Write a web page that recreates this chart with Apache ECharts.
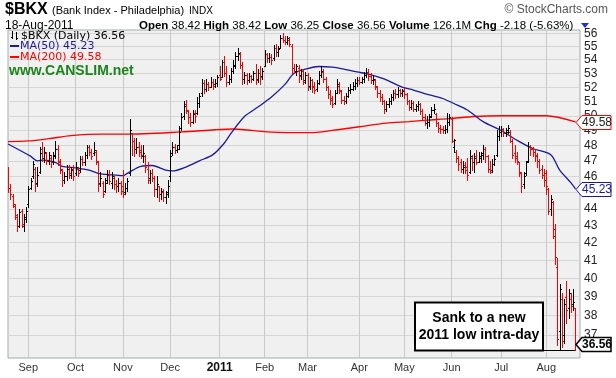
<!DOCTYPE html>
<html>
<head>
<meta charset="utf-8">
<script src="https://cdn.jsdelivr.net/npm/echarts@6/dist/echarts.min.js"></script>
<style>
  html, body { margin: 0; padding: 0; background: #fff; }
  #chart { width: 616px; height: 378px; }
</style>
</head>
<body>
<div id="chart"></div>
<script>
// trading days Aug 19 2010 .. Aug 22 2011 (last two are empty space on the right)
const holidays = ['2010-09-06', '2010-11-25', '2010-12-24', '2011-01-17', '2011-02-21', '2011-04-22', '2011-05-30', '2011-07-04'];
const monthNames = ['Jan', 'Feb', 'Mar', 'Apr', 'May', 'Jun', 'Jul', 'Aug', 'Sep', 'Oct', 'Nov', 'Dec'];
const yTicks = [37, 38, 39, 40, 41, 42, 43, 44, 45, 46, 47, 48, 49, 50, 51, 52, 53, 54, 55, 56];

const opens = [
  46.3, 45.3, 44.8, 44.2, 43.5, 43.0, 43.9, 43.0, 43.4, 44.3,
  45.3, 46.0, 46.5, 45.6, 46.3, 47.8, 47.2, 47.5, 47.0, 47.2,
  47.0, 47.4, 47.8, 46.9, 46.4, 45.8, 46.0, 46.6, 46.1, 46.5,
  46.2, 46.5, 46.4, 47.1, 46.9, 47.4, 47.9, 47.6, 47.5, 47.6,
  46.9, 45.6, 45.6, 45.1, 45.8, 46.1, 45.6, 45.9, 45.5, 45.4,
  45.6, 45.4, 45.0, 45.3, 46.2, 48.8, 48.3, 47.8, 47.9, 47.7,
  47.3, 47.3, 46.5, 45.9, 46.2, 45.9, 45.2, 45.4, 44.9, 45.0,
  44.7, 44.9, 46.0, 47.5, 47.9, 47.7, 48.0, 49.2, 50.0, 50.8,
  50.3, 49.9, 49.6, 50.2, 50.2, 50.9, 51.6, 52.3, 51.9, 52.2,
  52.0, 52.4, 52.2, 52.3, 52.9, 52.7, 53.8, 53.0, 52.4, 52.6,
  53.2, 53.6, 54.3, 54.4, 53.6, 52.6, 52.9, 52.5, 52.8, 52.6,
  53.0, 52.6, 53.0, 52.8, 53.5, 54.4, 54.1, 54.2, 54.1, 54.9,
  54.6, 54.9, 55.6, 55.5, 55.3, 55.5, 55.0, 53.4, 53.2, 53.4,
  52.9, 53.2, 52.5, 52.9, 52.1, 52.5, 52.1, 51.9, 52.3, 52.9,
  53.1, 52.6, 52.0, 51.5, 51.2, 50.9, 51.6, 52.1, 51.7, 51.1,
  51.0, 51.4, 51.8, 51.9, 52.1, 52.3, 52.5, 52.4, 52.6, 52.9,
  53.1, 52.8, 52.5, 52.5, 52.0, 51.6, 51.3, 51.0, 50.5, 50.8,
  51.0, 51.3, 51.6, 51.5, 51.8, 51.6, 51.8, 51.5, 51.0, 50.6,
  50.9, 50.5, 50.7, 50.8, 50.3, 49.9, 49.5, 49.6, 50.0, 50.4,
  50.1, 49.5, 49.2, 49.1, 49.0, 49.1, 49.6, 49.8, 47.9, 47.6,
  47.2, 46.9, 46.5, 46.7, 46.6, 46.3, 47.2, 46.9, 47.3, 46.9,
  47.2, 47.4, 47.8, 47.3, 46.5, 46.4, 46.8, 47.4, 48.6, 48.9,
  49.1, 48.8, 49.0, 48.9, 48.3, 47.5, 47.3, 46.9, 46.2, 45.5,
  46.2, 47.0, 47.9, 47.8, 47.6, 47.3, 47.0, 46.5, 46.1, 46.2,
  45.2, 44.0, 44.4, 42.8, 40.6, 37.2, 38.9, 37.0, 39.0, 38.4,
  38.9, 38.6, 38.42
];
const highs = [
  46.6, 45.5, 44.9, 44.3, 43.7, 44.0, 44.0, 43.7, 44.1, 45.4,
  45.9, 47.0, 46.6, 46.6, 47.9, 48.2, 47.9, 47.6, 47.6, 47.4,
  47.6, 48.3, 48.0, 47.1, 46.5, 46.3, 46.7, 46.7, 46.6, 46.7,
  46.9, 46.6, 47.3, 47.3, 47.6, 48.05, 48.0, 47.8, 48.2, 47.7,
  47.0, 46.3, 45.7, 45.9, 46.4, 46.4, 46.3, 46.0, 45.8, 45.9,
  45.7, 46.4, 45.6, 45.9, 49.75, 48.8, 48.5, 48.5, 48.2, 48.0,
  48.0, 47.4, 46.9, 46.4, 46.5, 46.0, 46.0, 45.4, 45.3, 45.2,
  45.1, 45.8, 47.7, 48.2, 48.1, 48.05, 49.3, 50.2, 51.0, 51.1,
  50.4, 50.2, 50.4, 50.4, 51.3, 51.6, 52.6, 52.5, 52.6, 52.4,
  52.7, 52.6, 52.6, 52.9, 53.5, 54.0, 54.3, 53.5, 52.9, 53.4,
  54.0, 54.6, 54.85, 54.6, 53.8, 53.1, 53.0, 53.0, 52.9, 53.2,
  53.7, 53.3, 53.5, 53.4, 54.7, 54.5, 54.5, 54.4, 55.1, 55.2,
  55.0, 55.9, 56.0, 55.8, 55.8, 55.7, 55.2, 53.7, 53.7, 53.6,
  53.3, 53.3, 53.1, 53.0, 52.7, 52.6, 52.4, 52.5, 53.2, 53.5,
  53.3, 52.7, 52.1, 51.8, 51.4, 51.8, 52.6, 52.4, 51.8, 51.4,
  51.6, 52.0, 52.2, 52.4, 52.6, 52.7, 52.7, 52.7, 53.1, 53.4,
  53.3, 53.0, 52.9, 52.6, 52.1, 51.8, 51.5, 51.1, 51.0, 51.2,
  51.5, 51.8, 51.9, 52.0, 51.9, 51.9, 51.95, 51.6, 51.1, 51.1,
  51.0, 50.8, 51.0, 50.9, 50.5, 50.1, 50.0, 50.1, 50.6, 50.8,
  50.2, 49.6, 49.4, 49.3, 49.4, 50.2, 50.1, 49.9, 48.4, 47.7,
  47.3, 47.1, 47.0, 46.9, 47.2, 47.7, 47.4, 47.5, 47.7, 47.6,
  47.6, 48.05, 47.9, 47.4, 47.0, 47.1, 47.4, 49.0, 49.3, 49.3,
  49.2, 49.2, 49.4, 49.0, 48.4, 48.0, 47.6, 46.9, 46.3, 46.3,
  47.0, 48.2, 48.0, 47.9, 47.8, 47.5, 47.1, 46.7, 46.5, 46.4,
  45.3, 44.85, 44.5, 43.1, 41.1, 39.7, 39.2, 38.9, 39.85, 39.4,
  39.2, 39.4, 38.42
];
const lows = [
  45.0, 44.6, 44.1, 43.4, 42.7, 42.9, 42.9, 42.7, 43.2, 44.1,
  45.2, 45.9, 45.1, 45.4, 46.2, 47.0, 46.9, 46.8, 46.8, 46.6,
  46.8, 47.2, 46.7, 46.2, 45.4, 45.6, 45.8, 45.9, 45.9, 45.8,
  46.1, 46.0, 46.3, 46.7, 46.7, 47.2, 47.4, 47.1, 47.4, 46.8,
  45.1, 45.4, 44.75, 45.0, 45.6, 45.5, 45.3, 45.2, 45.0, 45.1,
  44.9, 44.75, 44.9, 45.1, 46.1, 47.4, 47.3, 47.5, 47.3, 47.2,
  46.9, 46.3, 45.6, 45.6, 45.7, 44.8, 44.75, 44.5, 44.6, 44.5,
  44.35, 44.7, 45.7, 47.4, 47.5, 47.55, 47.8, 49.0, 49.8, 50.2,
  49.5, 49.3, 49.5, 49.6, 50.1, 50.6, 51.4, 51.6, 51.7, 51.8,
  52.0, 51.9, 52.0, 52.1, 52.5, 52.7, 52.8, 52.1, 52.2, 52.4,
  53.0, 53.4, 54.0, 53.4, 52.2, 52.3, 52.2, 52.4, 52.4, 52.5,
  52.2, 52.4, 52.2, 52.6, 53.5, 53.8, 53.8, 53.7, 54.0, 54.3,
  54.3, 54.85, 55.3, 55.2, 55.2, 55.0, 53.0, 53.0, 52.9, 52.4,
  52.6, 52.2, 52.3, 51.8, 51.9, 51.65, 51.6, 51.7, 52.2, 52.7,
  52.4, 51.8, 51.2, 50.8, 50.6, 50.8, 51.6, 51.6, 50.9, 50.8,
  50.9, 51.3, 51.6, 51.8, 51.9, 52.1, 52.2, 52.3, 52.4, 52.7,
  52.5, 52.3, 52.2, 51.9, 51.3, 51.0, 50.8, 50.2, 50.3, 50.6,
  50.8, 51.1, 51.2, 51.3, 51.4, 51.4, 51.2, 50.8, 50.4, 50.5,
  50.3, 50.3, 50.4, 50.1, 49.8, 49.4, 49.2, 49.3, 49.9, 50.2,
  49.3, 48.9, 48.85, 48.8, 48.8, 48.9, 49.4, 48.2, 47.6, 46.9,
  46.4, 46.3, 46.2, 46.2, 45.8, 46.2, 46.4, 46.3, 46.8, 46.9,
  46.9, 47.1, 46.9, 46.3, 46.2, 46.3, 46.7, 47.3, 48.35, 48.6,
  48.6, 48.6, 48.8, 48.2, 47.2, 46.9, 46.8, 46.0, 45.05, 45.3,
  46.1, 46.9, 47.4, 47.3, 47.0, 46.6, 46.2, 45.9, 45.4, 44.9,
  43.7, 43.6, 42.3, 40.8, 36.5, 36.3, 36.4, 36.6, 37.6, 37.9,
  38.2, 38.3, 36.25
];
const closes = [
  45.3, 44.9, 44.3, 43.6, 43.0, 43.8, 43.1, 43.5, 43.9, 45.2,
  45.7, 46.8, 45.5, 46.1, 47.5, 47.2, 47.6, 47.0, 47.4, 46.9,
  47.3, 47.8, 47.0, 46.5, 45.8, 46.0, 46.5, 46.2, 46.4, 46.0,
  46.6, 46.2, 47.1, 46.9, 47.4, 47.9, 47.6, 47.3, 47.7, 47.0,
  45.5, 45.9, 44.9, 45.6, 46.1, 45.7, 46.0, 45.5, 45.4, 45.6,
  45.1, 44.9, 45.3, 45.7, 49.0, 48.3, 47.8, 47.9, 47.6, 47.4,
  47.5, 46.6, 45.8, 46.2, 45.9, 45.2, 45.5, 44.9, 45.1, 44.7,
  45.0, 45.4, 47.3, 47.9, 47.7, 47.8, 48.9, 49.9, 50.7, 50.4,
  49.9, 49.6, 50.1, 50.0, 50.9, 51.4, 52.3, 51.9, 52.2, 52.0,
  52.4, 52.1, 52.3, 52.7, 52.6, 53.8, 53.0, 52.4, 52.6, 53.2,
  53.5, 54.3, 54.5, 53.6, 52.6, 52.9, 52.5, 52.8, 52.6, 53.0,
  52.5, 53.0, 52.7, 53.2, 54.4, 54.1, 54.2, 54.0, 54.9, 54.6,
  54.8, 55.6, 55.5, 55.3, 55.6, 55.2, 53.4, 53.2, 53.5, 52.8,
  53.2, 52.4, 52.9, 52.0, 52.5, 52.0, 51.8, 52.3, 52.9, 53.2,
  52.6, 52.0, 51.5, 51.1, 50.8, 51.6, 52.2, 51.8, 51.1, 51.0,
  51.4, 51.8, 51.9, 52.1, 52.3, 52.5, 52.4, 52.6, 52.9, 53.1,
  52.8, 52.5, 52.6, 52.1, 51.6, 51.3, 51.0, 50.5, 50.8, 51.0,
  51.3, 51.6, 51.5, 51.8, 51.6, 51.7, 51.5, 51.0, 50.6, 50.9,
  50.5, 50.7, 50.8, 50.3, 49.9, 49.5, 49.6, 49.9, 50.4, 50.5,
  49.5, 49.2, 49.1, 49.0, 49.1, 49.6, 49.9, 48.3, 48.35, 47.2,
  46.8, 46.5, 46.6, 46.4, 46.1, 47.3, 46.9, 47.2, 46.9, 47.3,
  47.5, 47.8, 47.3, 46.5, 46.3, 46.8, 47.1, 48.6, 48.9, 49.1,
  48.8, 48.9, 49.2, 48.6, 47.4, 47.2, 47.0, 46.3, 45.4, 46.0,
  46.9, 47.9, 47.8, 47.6, 47.4, 47.0, 46.4, 46.1, 45.8, 45.4,
  43.9, 44.6, 42.4, 41.2, 36.8, 39.4, 36.7, 38.6, 38.3, 39.2,
  38.5, 38.74, 36.56
];
// moving averages at [day index, value]
const ma50Points = [
  [0, 48.1], [10, 47.3], [13, 47.0], [16, 47.05], [21, 46.9], [24, 46.65], [30, 46.55], [36, 46.4],
  [40, 46.2], [46, 46.1], [51, 46.05], [53, 46.2], [59, 46.65], [64, 46.7], [70, 46.4], [73, 46.35],
  [79, 46.6], [85, 47.0], [91, 47.4], [96, 48.15], [99, 48.8], [105, 49.95], [111, 50.6], [117, 51.3],
  [123, 52.2], [127, 53.0], [133, 53.35], [138, 53.5], [144, 53.45], [148, 53.35], [155, 53.1],
  [160, 52.95], [167, 52.6], [175, 52.0], [180, 51.8], [185, 51.55], [193, 51.2], [198, 50.85],
  [204, 50.4], [211, 49.6], [219, 49.0], [226, 48.35], [233, 47.8], [241, 47.4], [245, 46.4],
  [250, 45.6], [252, 45.23]
];
const ma200Points = [
  [0, 48.25], [9, 48.3], [18, 48.45], [28, 48.65], [42, 48.75], [52, 48.75], [77, 48.9], [92, 49.05],
  [100, 49.1], [115, 48.9], [124, 48.85], [134, 48.85], [144, 49.0], [156, 49.25], [168, 49.5],
  [178, 49.6], [186, 49.7], [196, 49.8], [207, 49.95], [219, 50.0], [239, 50.0], [252, 49.58]
];

const days = [];
for (let t = Date.UTC(2010, 7, 19); t <= Date.UTC(2011, 7, 22); t += 864e5) {
  const d = new Date(t);
  const s = d.toISOString().slice(0, 10);
  if (d.getUTCDay() !== 0 && d.getUTCDay() !== 6 && holidays.indexOf(s) < 0) days.push(s);
}
const isMonthStart = (i) => i > 0 && days[i].slice(5, 7) !== days[i - 1].slice(5, 7);

const ohlc = closes.map((c, i) => {
  const down = i === 0 ? c < opens[i] : c < closes[i - 1];
  return [i, opens[i], highs[i], lows[i], c, down ? 1 : 0];
});
function spread(points) {
  const arr = days.map(() => null);
  points.forEach(p => { arr[p[0]] = p[1]; });
  return arr;
}

const chart = echarts.init(document.getElementById('chart'));
const option = {
  animation: false,
  grid: {
    left: 8, right: 36, top: 30, bottom: 20,
    show: true, backgroundColor: '#f0f0f0', borderColor: '#a3abab', borderWidth: 1
  },
  xAxis: {
    type: 'category',
    data: days,
    boundaryGap: false,
    axisLine: { show: false },
    axisTick: { show: false },
    axisLabel: {
      interval: (i) => isMonthStart(i),
      formatter: (v) => {
        const m = +v.slice(5, 7) - 1;
        return m === 0 ? '{y|' + v.slice(0, 4) + '}' : monthNames[m];
      },
      rich: { y: { fontWeight: 'bold', fontSize: 12, color: '#111', fontFamily: 'Liberation Sans' } },
      color: '#333', fontSize: 11, fontFamily: 'Liberation Sans', margin: 4
    },
    splitLine: { show: true, interval: (i) => isMonthStart(i), lineStyle: { color: '#c9c9c9', width: 1 } }
  },
  yAxis: {
    type: 'log',
    position: 'right',
    min: 35.85,
    max: 56.25,
    axisLine: { show: false },
    axisTick: { show: false, customValues: yTicks },
    axisLabel: { customValues: yTicks, color: '#222', fontSize: 12, fontFamily: 'Liberation Sans', margin: 4 },
    splitLine: { show: true, lineStyle: { color: '#d6d6d6', width: 1 } }
  },
  series: [
    {
      type: 'line', name: 'MA(200)', data: spread(ma200Points), connectNulls: true, smooth: 0.3,
      showSymbol: false, lineStyle: { color: '#ff0000', width: 1.3 }, z: 2
    },
    {
      type: 'line', name: 'MA(50)', data: spread(ma50Points), connectNulls: true, smooth: 0.3,
      showSymbol: false, lineStyle: { color: '#1a1a9a', width: 1.3 }, z: 2
    },
    {
      type: 'custom', name: '$BKX', data: ohlc, clip: true, z: 3,
      encode: { x: 0, y: [1, 2, 3, 4] },
      renderItem: (params, api) => {
        const i = api.value(0);
        const h = api.coord([i, api.value(2)]);
        const l = api.coord([i, api.value(3)]);
        const o = api.coord([i, api.value(1)]);
        const c = api.coord([i, api.value(4)]);
        const x = Math.round(h[0]);
        const st = { fill: api.value(5) ? '#ff0000' : '#000000' };
        return {
          type: 'group',
          children: [
            { type: 'rect', shape: { x: x, y: Math.round(h[1]), width: 1, height: Math.max(1, Math.round(l[1]) - Math.round(h[1]) + 1) }, style: st },
            { type: 'rect', shape: { x: x - 1, y: Math.round(o[1]), width: 1, height: 1 }, style: st },
            { type: 'rect', shape: { x: x + 1, y: Math.round(c[1]), width: 1, height: 1 }, style: st }
          ]
        };
      }
    }
  ]
};
chart.setOption(option);

const last = closes.length - 1;
function tag(value, text, border, color, bold) {
  const y = Math.round(chart.convertToPixel({ yAxisIndex: 0 }, value)) + 0.5;
  return [
    { type: 'polygon', z: 100, shape: { points: [[576, y], [582, y - 7], [611, y - 7], [611, y + 7], [582, y + 7]] },
      style: { fill: '#ffffff', stroke: border, lineWidth: bold ? 1.5 : 1 } },
    { type: 'text', z: 101, x: 597, y: y,
      style: { text: text, fill: color, font: (bold ? 'bold ' : '') + '12px Liberation Sans', align: 'center', verticalAlign: 'middle', textAlign: 'center', textVerticalAlign: 'middle' } }
  ];
}
function txt(x, y, text, font, color, align) {
  return { type: 'text', x: x, y: y, z: 100,
    style: { text: text, font: font, fill: color || '#000', align: align || 'left', verticalAlign: 'middle', textAlign: align || 'left', textVerticalAlign: 'middle' } };
}
const lowPt = chart.convertToPixel({ xAxisIndex: 0, yAxisIndex: 0 }, [last, lows[last]]);
const boxBottom = Math.round(lowPt[1]) + 0.5;
const rich = { b: { fontWeight: 'bold', fontSize: 11.5, fontFamily: 'Liberation Sans', fill: '#000' } };

chart.setOption({
  graphic: [
    txt(5, 10, '$BKX', 'bold 16px Liberation Sans'),
    txt(52, 11, '(Bank Index - Philadelphia)', '11px Liberation Sans'),
    txt(189, 11, 'INDX', '10px Liberation Sans'),
    txt(608, 10, '© StockCharts.com', '12px Liberation Sans', '#555', 'right'),
    txt(5, 26, '18-Aug-2011', '12px Liberation Sans'),
    { type: 'text', x: 139, y: 26, z: 100,
      style: { text: '{b|Open} 38.42 {b|High} 38.42 {b|Low} 36.25 {b|Close} 36.56 {b|Volume} 126.1M {b|Chg} -2.18 (-5.63%)',
        rich: rich, font: '11.5px Liberation Sans', fill: '#000', verticalAlign: 'middle', textVerticalAlign: 'middle' } },
    { type: 'polygon', z: 100, shape: { points: [[581, 23], [589, 23], [585, 28]] }, style: { fill: '#2233cc' } },
    // legend inside the plot
    { type: 'rect', z: 100, shape: { x: 12, y: 31, width: 1, height: 8 }, style: { fill: '#000' } },
    { type: 'rect', z: 100, shape: { x: 11, y: 37, width: 1, height: 1 }, style: { fill: '#000' } },
    { type: 'rect', z: 100, shape: { x: 16, y: 32, width: 1, height: 8 }, style: { fill: '#000' } },
    { type: 'rect', z: 100, shape: { x: 17, y: 38, width: 1, height: 1 }, style: { fill: '#000' } },
    txt(21, 36, '$BKX (Daily) 36.56', '11px DejaVu Sans', '#000'),
    { type: 'rect', z: 100, shape: { x: 10, y: 45, width: 9, height: 2 }, style: { fill: '#1a1a9a' } },
    txt(20, 46, 'MA(50) 45.23', '11px DejaVu Sans', '#1a1a9a'),
    { type: 'rect', z: 100, shape: { x: 10, y: 56, width: 9, height: 2 }, style: { fill: '#ff0000' } },
    txt(20, 57, 'MA(200) 49.58', '11px DejaVu Sans', '#ff0000'),
    txt(9, 71, 'www.CANSLIM.net', 'bold 14px Liberation Sans', '#1b841b'),
    // annotation
    { type: 'line', z: 100, shape: { x1: 543, y1: boxBottom, x2: Math.round(lowPt[0]), y2: boxBottom }, style: { stroke: '#000', lineWidth: 1 } },
    { type: 'rect', z: 100, shape: { x: 415, y: boxBottom - 48, width: 128, height: 48 }, style: { fill: '#ffffff', stroke: '#000', lineWidth: 2 } },
    txt(479, boxBottom - 32, 'Sank to a new', 'bold 14px Liberation Sans', '#000', 'center'),
    txt(479, boxBottom - 15, '2011 low intra-day', 'bold 14px Liberation Sans', '#000', 'center'),
    ...tag(49.58, '49.58', '#ff0000', '#222'),
    ...tag(45.23, '45.23', '#1a1a9a', '#1a1a9a'),
    ...tag(closes[last], '36.56', '#000', '#000', true)
  ]
});
</script>
</body>
</html>
